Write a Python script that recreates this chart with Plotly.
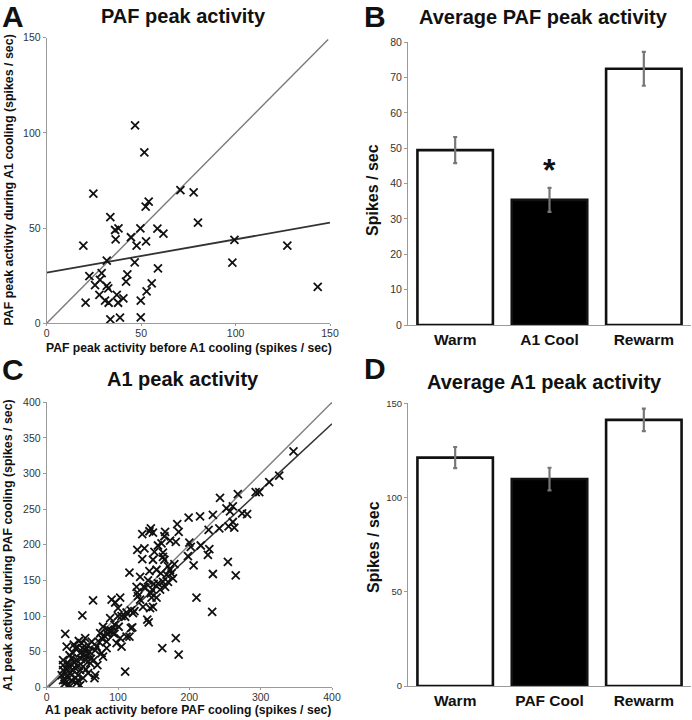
import plotly.graph_objects as go

W, H = 692, 720

# ---------------- Data ----------------
# Panel A: PAF peak activity (before vs during A1 cooling)
a_before = [46.8, 51.7, 24.7, 70.8, 77.8, 54.0, 52.4, 33.7, 80.1, 36.2, 38.0, 49.6, 58.6, 61.8,
            36.5, 44.6, 47.6, 52.6, 19.4, 99.4, 127.4, 98.3, 31.8, 46.6, 58.9, 22.6, 25.6, 29.1,
            28.2, 31.8, 32.6, 27.9, 30.9, 32.8, 37.1, 37.8, 40.6, 20.6, 42.7, 42.0, 52.9, 55.6,
            49.8, 33.7, 38.8, 49.8, 143.5]
a_during = [104.0, 89.8, 68.1, 70.0, 68.8, 63.9, 61.3, 55.8, 52.9, 49.0, 49.9, 49.9, 49.7, 47.1,
            44.1, 45.2, 40.8, 43.0, 40.8, 43.8, 40.8, 31.9, 32.9, 32.0, 28.9, 24.8, 20.1, 26.3,
            22.8, 19.6, 18.4, 14.9, 11.9, 10.8, 14.9, 10.8, 13.1, 10.9, 25.7, 21.9, 16.8, 21.0,
            11.9, 2.1, 3.0, 3.1, 19.1]
a_fit_intercept = 26.6
a_fit_slope = 0.175

# Panel B: average PAF peak activity
b_conditions = ["Warm", "A1 Cool", "Rewarm"]
b_means = [49.5, 35.4, 72.5]
b_sem = [3.7, 3.4, 4.8]

# Panel C: A1 peak activity (before vs during PAF cooling)
c_before = [346, 326, 312, 293, 298, 268, 243, 261, 252, 257, 233, 215, 199, 274, 281, 261, 255,
            227, 242, 263, 183, 185, 146, 144, 149, 134, 166, 165, 173, 181, 127, 137, 151, 156,
            161, 163, 163, 165, 134, 200, 202, 206, 198, 228, 226, 254, 233, 265, 210, 232, 181,
            185, 162, 110, 116, 144, 154, 142, 136, 146, 127, 148, 156, 159, 163, 166, 170, 177,
            154, 147, 149, 145, 141, 143, 131, 135, 103, 96, 100, 118, 121, 123, 116, 120, 118,
            110, 112, 65, 50, 26, 28, 89, 86, 91, 93, 75, 77, 74, 70, 68, 66, 71, 79, 84, 98,
            105, 58, 68, 49, 47, 42, 40, 33, 28, 35, 42, 47, 30, 26, 37, 54, 56, 61, 51, 23, 30,
            35, 43, 23, 27, 54, 58, 63, 84, 54, 58, 44, 51, 35, 23, 21, 40, 47, 67, 79, 95, 101,
            77, 23, 103, 82, 91, 216, 179, 173, 168, 126, 131, 149, 30, 32, 38, 45, 48, 52, 36,
            25, 33, 44, 55, 60, 62, 40, 45, 38, 50, 28, 85, 90, 95, 100, 105, 112, 128, 138, 150,
            160, 170, 175]
c_during = [331, 297, 288, 274, 274, 271, 266, 254, 251, 247, 242, 240, 238, 244, 243, 232, 226,
            221, 223, 224, 229, 218, 223, 219, 217, 215, 218, 212, 206, 204, 193, 195, 190, 199,
            202, 189, 183, 179, 180, 203, 197, 171, 184, 194, 186, 176, 159, 157, 126, 106, 69,
            46, 55, 22, 161, 163, 165, 150, 141, 132, 133, 137, 146, 137, 148, 141, 148, 153,
            126, 126, 113, 111, 95, 91, 123, 113, 126, 119, 111, 108, 104, 107, 71, 84, 83, 99,
            71, 122, 101, 75, 57, 97, 81, 78, 76, 76, 69, 63, 57, 52, 38, 31, 43, 64, 62, 57,
            20, 17, 62, 48, 38, 27, 20, 15, 10, 6, 3, 3, 10, 48, 52, 43, 34, 29, 24, 34, 41, 56,
            38, 20, 69, 59, 64, 55, 38, 48, 17, 13, 17, 10, 17, 13, 24, 13, 85, 88, 85, 48, 31,
            69, 71, 123, 199, 173, 165, 158, 141, 155, 179, 30, 45, 35, 30, 40, 47, 25, 5, 2, 10,
            25, 50, 40, 55, 65, 60, 55, 25, 75, 80, 75, 100, 100, 105, 128, 140, 145, 160, 170,
            160]
c_fit_intercept = -2.0
c_fit_slope = 0.93

# Panel D: average A1 peak activity
d_conditions = ["Warm", "PAF Cool", "Rewarm"]
d_means = [121.2, 109.8, 141.2]
d_sem = [5.6, 6.0, 6.0]

# ---------------- Layout helpers ----------------
def xd(p0, p1):
    return [p0 / W, p1 / W]

def yd(top, bottom):
    return [1 - bottom / H, 1 - top / H]

FONT = "Liberation Sans, Arial, sans-serif"
AXCOL = "#9a9a9a"
TICKCOL = "#333333"

fig = go.Figure()

# Panel A scatter
fig.add_trace(go.Scatter(x=[0, 149], y=[0, 149], mode="lines",
                         line=dict(color="#7a7a7a", width=1.4), xaxis="x", yaxis="y",
                         showlegend=False, hoverinfo="skip"))
fig.add_trace(go.Scatter(x=[0, 150], y=[a_fit_intercept, a_fit_intercept + a_fit_slope * 150],
                         mode="lines", line=dict(color="#333333", width=1.8),
                         xaxis="x", yaxis="y", showlegend=False, hoverinfo="skip"))
fig.add_trace(go.Scatter(x=a_before, y=a_during, mode="markers",
                         marker=dict(symbol="x-thin", size=8, line=dict(color="#111", width=1.8)),
                         xaxis="x", yaxis="y", showlegend=False))

# Panel B bars
fig.add_trace(go.Bar(x=b_conditions, y=b_means, width=0.8,
                     marker=dict(color=["white", "black", "white"], line=dict(color="#111", width=2.6)),
                     error_y=dict(type="data", array=b_sem, color="#777777", thickness=2.2, width=2),
                     xaxis="x2", yaxis="y2", showlegend=False))

# Panel C scatter
fig.add_trace(go.Scatter(x=[0, 400], y=[0, 400], mode="lines",
                         line=dict(color="#7a7a7a", width=1.4), xaxis="x3", yaxis="y3",
                         showlegend=False, hoverinfo="skip"))
fig.add_trace(go.Scatter(x=[3, 400], y=[c_fit_intercept + c_fit_slope * 3, c_fit_intercept + c_fit_slope * 400],
                         mode="lines", line=dict(color="#333333", width=1.5),
                         xaxis="x3", yaxis="y3", showlegend=False, hoverinfo="skip"))
fig.add_trace(go.Scatter(x=c_before, y=c_during, mode="markers",
                         marker=dict(symbol="x-thin", size=8, line=dict(color="#111", width=1.8)),
                         xaxis="x3", yaxis="y3", showlegend=False))

# Panel D bars
fig.add_trace(go.Bar(x=d_conditions, y=d_means, width=0.8,
                     marker=dict(color=["white", "black", "white"], line=dict(color="#111", width=2.6)),
                     error_y=dict(type="data", array=d_sem, color="#777777", thickness=2.2, width=2),
                     xaxis="x4", yaxis="y4", showlegend=False))

num_axis = dict(showline=True, linecolor=AXCOL, linewidth=1, ticks="outside", ticklen=3,
                tickcolor=AXCOL, showgrid=False, zeroline=False, automargin=False,
                tickfont=dict(family=FONT, size=10.5, color=TICKCOL))
cat_axis = dict(showline=True, linecolor=AXCOL, linewidth=1, ticks="", showgrid=False,
                zeroline=False, automargin=False,
                tickfont=dict(family=FONT, size=15.5, color="#111", weight="bold"))
num_xaxis = {**num_axis, "ticklen": 2, "ticklabelstandoff": -2}

fig.update_layout(
    template="none",
    width=W, height=H, margin=dict(l=0, r=0, t=0, b=0),
    paper_bgcolor="white", plot_bgcolor="white", bargap=0.2,
    xaxis=dict(domain=xd(46.7, 330), range=[0, 150], tickvals=[0, 50, 100, 150], anchor="y", **num_xaxis),
    yaxis=dict(domain=yd(37.7, 323.3), range=[0, 150], tickvals=[0, 50, 100, 150], anchor="x", **num_axis),
    xaxis2=dict(domain=xd(408, 691), range=[-0.5, 2.5], anchor="y2", **cat_axis),
    yaxis2=dict(domain=yd(42.3, 325), range=[0, 80], tickvals=list(range(0, 81, 10)), anchor="x2", **num_axis),
    xaxis3=dict(domain=xd(46.7, 332), range=[0, 400], tickvals=[0, 100, 200, 300, 400], anchor="y3", **num_xaxis),
    yaxis3=dict(domain=yd(402.3, 687.3), range=[0, 400], tickvals=list(range(0, 401, 50)), anchor="x3", **num_axis),
    xaxis4=dict(domain=xd(408, 691), range=[-0.5, 2.5], anchor="y4", **cat_axis),
    yaxis4=dict(domain=yd(403.3, 686), range=[0, 150], tickvals=[0, 50, 100, 150], anchor="x4",
                **{**num_axis, "tickfont": dict(family=FONT, size=9.5, color=TICKCOL)}),
)

def ann(text, px, py, size, bold=True, angle=0, xanchor="center", yanchor="middle"):
    fig.add_annotation(text=text, x=px / W, y=1 - py / H, xref="paper", yref="paper",
                       showarrow=False, textangle=angle, xanchor=xanchor, yanchor=yanchor,
                       font=dict(family=FONT, size=size, color="#111", weight="bold" if bold else "normal"))

# panel letters
ann("A", 0, 16, 30, xanchor="left")
ann("B", 362, 16, 30, xanchor="left")
ann("C", 0, 370, 30, xanchor="left")
ann("D", 362, 369, 30, xanchor="left")

# titles
ann("PAF peak activity", 183, 16, 20)
ann("Average PAF peak activity", 543, 17, 20)
ann("A1 peak activity", 183, 379, 20)
ann("Average A1 peak activity", 544, 382, 20)

# axis titles
ann("PAF peak activity before A1 cooling (spikes / sec)", 188.5, 348, 12.2)
ann("PAF peak activity during A1 cooling (spikes / sec)", 8, 180.5, 12.4, angle=-90)
ann("Spikes / sec", 373, 190, 16, angle=-90)
ann("A1 peak activity before PAF cooling (spikes / sec)", 188, 710, 12.2)
ann("A1 peak activity during PAF cooling (spikes / sec)", 8, 545, 12.4, angle=-90)
ann("Spikes / sec", 373, 547, 16, angle=-90)

# significance asterisk
fig.add_annotation(text="*", x="A1 Cool", y=b_means[1] + 8.6, xref="x2", yref="y2",
                   showarrow=False, font=dict(family=FONT, size=32, color="#111", weight="bold"))

fig.write_html("out.html", config={"displayModeBar": False},
               post_script="document.body.style.margin='0';document.body.style.overflow='hidden';")
